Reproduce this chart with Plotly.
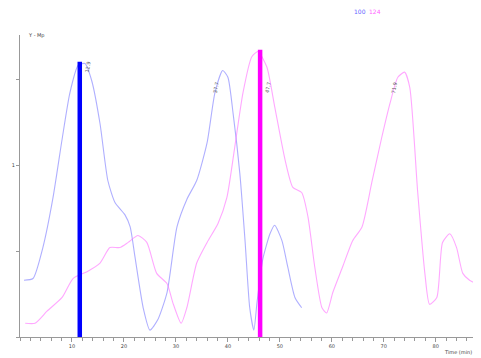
import plotly.graph_objects as go

# ---- data ----
series_names = ["100", "124"]

blue_x = [0.77, 2.5, 4.4, 6.35, 8.1, 9.6, 11.2, 12.5, 13.8, 15.4, 16.9, 18.3, 20.2, 21.2, 22.1,
          23.7, 25.0, 26.5, 28.3, 30.2, 32.1, 34.0, 36.0, 37.5, 39.0, 40.0, 41.0, 42.3, 43.3,
          44.2, 45.0, 45.6, 46.7, 48.1, 49.0, 50.4, 51.5, 52.9, 54.2]
blue_y = [0.33, 0.34, 0.52, 0.81, 1.15, 1.42, 1.58, 1.59, 1.49, 1.24, 0.91, 0.78, 0.71, 0.64, 0.47,
          0.17, 0.04, 0.10, 0.26, 0.64, 0.80, 0.91, 1.13, 1.42, 1.55, 1.51, 1.30, 0.95, 0.56,
          0.17, 0.04, 0.20, 0.45, 0.60, 0.65, 0.56, 0.41, 0.23, 0.17]

mag_x = [1.0, 2.9, 5.2, 8.1, 10.2, 12.9, 15.4, 17.3, 19.2, 20.8, 22.7, 24.4, 26.3, 28.3, 29.4,
         31.0, 32.1, 34.0, 36.0, 38.1, 39.8, 41.3, 42.9, 44.6, 45.8, 47.5, 49.0, 51.0, 52.5,
         54.2, 55.4, 56.7, 58.1, 59.0, 60.2, 62.1, 64.0, 65.8, 67.7, 69.6, 71.2, 72.7, 74.0,
         75.0, 76.5, 77.9, 78.8, 80.2, 81.3, 82.7, 84.0, 85.2, 86.5, 88.7]
mag_y = [0.08, 0.08, 0.15, 0.23, 0.34, 0.38, 0.43, 0.52, 0.52, 0.55, 0.59, 0.55, 0.37, 0.31, 0.20,
         0.08, 0.17, 0.43, 0.55, 0.66, 0.81, 1.10, 1.42, 1.63, 1.66, 1.57, 1.34, 1.03, 0.87,
         0.84, 0.70, 0.41, 0.17, 0.14, 0.26, 0.41, 0.56, 0.64, 0.90, 1.16, 1.36, 1.51, 1.54,
         1.45, 0.85, 0.37, 0.19, 0.23, 0.55, 0.60, 0.52, 0.37, 0.33, 0.30]

marker_x = [11.5, 46.2]
marker_y = [1.60, 1.67]

peak_label_x = [13.0, 37.6, 47.6, 71.9]
peak_label_y = [1.57, 1.45, 1.45, 1.45]
peak_label_text = ["12.9", "37.7", "47.7", "71.9"]

x_tick_vals = [10, 20, 30, 40, 50, 60, 70, 80]
x_tick_text = ["10", "20", "30", "40", "50", "60", "70", "80"]
y_tick_vals = [0, 0.5, 1.0, 1.5]
y_tick_text = ["", "", "1", ""]

line_colors = ["rgba(110,110,255,0.55)", "rgba(255,110,255,0.6)"]
bar_colors = ["#0000ff", "#ff00ff"]

fig = go.Figure()
fig.add_trace(go.Scatter(x=blue_x, y=blue_y, mode="lines", name=series_names[0],
                         line=dict(color=line_colors[0], width=1.1, shape="spline", smoothing=0.6)))
fig.add_trace(go.Scatter(x=mag_x, y=mag_y, mode="lines", name=series_names[1],
                         line=dict(color=line_colors[1], width=1.1, shape="spline", smoothing=0.6)))
for i in range(2):
    fig.add_trace(go.Scatter(x=[marker_x[i], marker_x[i]], y=[0, marker_y[i]], mode="lines",
                             line=dict(color=bar_colors[i], width=4.5), showlegend=False))

for xv, yv, t in zip(peak_label_x, peak_label_y, peak_label_text):
    fig.add_annotation(x=xv, y=yv, text=t, showarrow=False, textangle=-80,
                       font=dict(size=5, color="#555"), xanchor="center", yanchor="middle")

# legend-like coloured names
fig.add_annotation(xref="paper", yref="paper", x=0.72, y=1.079, text=series_names[0],
                   showarrow=False, font=dict(size=6, color="#6666ff"), xanchor="left",
                   yanchor="middle")
fig.add_annotation(xref="paper", yref="paper", x=0.752, y=1.079, text=series_names[1],
                   showarrow=False, font=dict(size=6, color="#ff66ff"), xanchor="left",
                   yanchor="middle")
# axis titles
fig.add_annotation(xref="paper", yref="paper", x=0.012, y=1.0, text="Y - Mp",
                   showarrow=False, font=dict(size=5, color="#444"), xanchor="left", yanchor="middle")
fig.add_annotation(xref="paper", yref="paper", x=0.915, y=-0.05, text="Time (min)",
                   showarrow=False, font=dict(size=5, color="#444"), xanchor="left", yanchor="middle")

fig.update_layout(
    width=473, height=350,
    margin=dict(l=12, r=0, t=27, b=21, autoexpand=False),
    plot_bgcolor="white", paper_bgcolor="white",
    showlegend=False,
    font=dict(family="DejaVu Sans", size=5, color="#444"),
    xaxis=dict(range=[0, 88.7], showgrid=False, zeroline=False, showline=True, automargin=False,
               linecolor="#999", linewidth=1, ticks="outside", ticklen=4, tickcolor="#999",
               tickvals=x_tick_vals, ticktext=x_tick_text, tickfont=dict(size=5),
               minor=dict(dtick=2, ticks="outside", ticklen=3, tickcolor="#999")),
    yaxis=dict(range=[0, 1.756], showgrid=False, zeroline=False, showline=True, automargin=False,
               linecolor="#999", linewidth=1, ticks="outside", ticklen=3, tickcolor="#999",
               tickvals=y_tick_vals, ticktext=y_tick_text, tickfont=dict(size=5)),
)

fig.write_html("out.html")
